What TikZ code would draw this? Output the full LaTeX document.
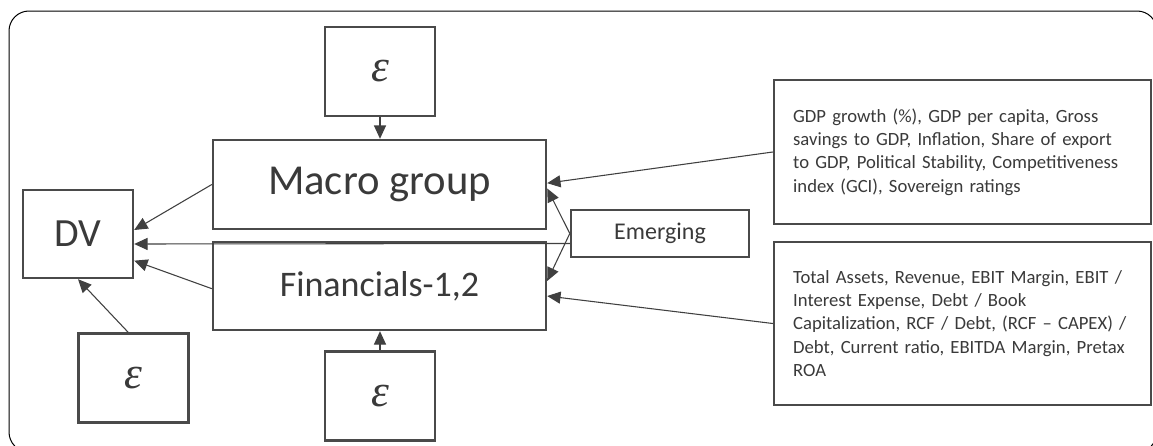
\documentclass[tikz,border=0pt]{standalone}
\usepackage{fontspec}
\setmainfont{Carlito}
\newfontfamily\epsfont{Liberation Serif}
\usetikzlibrary{arrows.meta,calc}
\definecolor{boxc}{HTML}{4A4A4A}
\definecolor{linec}{HTML}{404040}
\definecolor{txtc}{HTML}{3A3A3A}
\tikzset{
  box/.style={draw=boxc, line width=1.8pt, rectangle, inner sep=0pt, text=txtc, align=center},
  epsbox/.style={box, minimum width=82.5pt, minimum height=66.75pt, font=\epsfont\fontsize{34}{34}\selectfont\itshape},
  listbox/.style={box, minimum width=282.75pt, text width=254pt, inner xsep=14.25pt, align=left, font=\fontsize{14}{17.5}\selectfont},
  conn/.style={draw=linec, line width=0.8pt, -{Triangle[length=10pt,width=9pt]}, color=linec}
}
\begin{document}
\begin{tikzpicture}[x=0.75pt,y=-0.75pt]
\useasboundingbox (0,0) rectangle (1153,446);
\clip (0,0) rectangle (1153,446);
\fill[white] (0,0) rectangle (1153,446);
\draw[black, line width=0.75pt, rounded corners=15pt] (9,11) rectangle (1157,452);

\node[box, minimum width=82.5pt, minimum height=66pt, font=\fontsize{30}{30}\selectfont] (dv) at (78,234) {DV};
\node[epsbox] (epsL) at (133.5,378) {ε};
\node[epsbox] (epsT) at (380,71.5) {ε};
\node[epsbox] (epsB) at (380,396) {ε};
\node[box, minimum width=249.75pt, minimum height=66.75pt, font=\fontsize{32}{32}\selectfont] (macro) at (379.5,184.5) {Macro group};
\node[box, minimum width=249.75pt, minimum height=66pt, font=\fontsize{27}{27}\selectfont] (fin) at (379.5,286) {Financials-1,2};
\node[box, minimum width=133.5pt, minimum height=35.25pt, font=\fontsize{18}{18}\selectfont] (emerg) at (660,233.5) {Emerging};
\node[listbox, minimum height=108pt] (macroV) at (962.5,152) {GDP growth (\%), GDP per capita, Gross\\savings to GDP, Inflation, Share of export\\to GDP, Political Stability, Competitiveness\\index (GCI), Sovereign ratings};
\node[listbox, minimum height=122.25pt] (finV) at (962.5,323.5) {Total Assets, Revenue, EBIT Margin, EBIT /\\Interest Expense, Debt / Book\\Capitalization, RCF / Debt, (RCF -- CAPEX) /\\Debt, Current ratio, EBITDA Margin, Pretax\\ROA};

\draw[conn] (epsT.south) -- (epsT.south |- macro.north);
\draw[conn] (epsB.north) -- (epsB.north |- fin.south);
\draw[conn] (macro.west) -- ([yshift=3pt]dv.east);
\draw[conn] ([yshift=-7.5pt]emerg.west) -- ([yshift=-7.5pt]dv.east);
\draw[conn] ([yshift=-2pt]fin.west) -- ([yshift=-20pt]dv.east);
\draw[conn] ([xshift=-4pt]epsL.north) -- (dv.south);
\draw[conn] (emerg.west) -- ([yshift=-3pt]macro.east);
\draw[conn] (emerg.west) -- ([yshift=3.75pt]fin.east);
\draw[conn] (macroV.west) -- ([yshift=1pt]macro.east);
\draw[conn] (finV.west) -- ([yshift=-7.5pt]fin.east);
\end{tikzpicture}
\end{document}
